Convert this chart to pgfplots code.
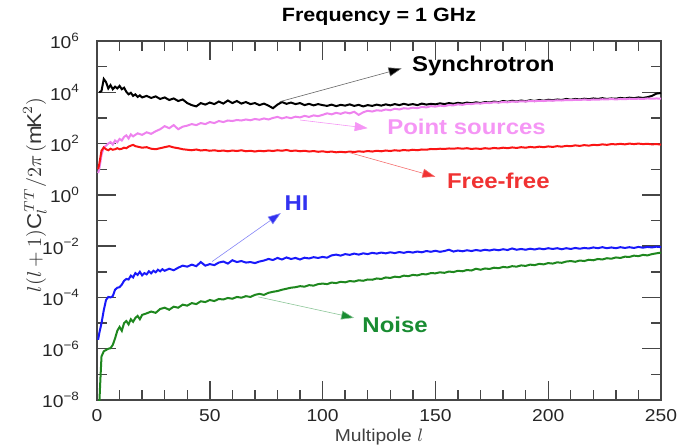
\documentclass[border=0pt]{standalone}
\usepackage{pgfplots}
\pgfplotsset{compat=1.18}
\usepackage{pgfplotstable}
\usepackage{fontspec}
\setmainfont{Liberation Sans}[FakeStretch=1.12]
\usetikzlibrary{arrows.meta}

\definecolor{cSyn}{RGB}{0,0,0}
\definecolor{cPS}{RGB}{238,130,238}
\definecolor{cPSlab}{RGB}{245,150,245}
\definecolor{cFF}{RGB}{250,20,20}
\definecolor{cFFlab}{RGB}{240,50,50}
\definecolor{cHI}{RGB}{25,25,250}
\definecolor{cHIlab}{RGB}{50,50,240}
\definecolor{cN}{RGB}{30,135,30}
\definecolor{cNlab}{RGB}{25,140,50}
\definecolor{cAx}{RGB}{70,70,70}

% values: l  and log10 of l(l+1)C_l/2pi
\pgfplotstableread{
l v
1 4.00
2 4.05
3 4.52
4 4.40
5 4.15
6 4.28
7 4.12
8 4.22
9 4.15
10 4.25
11 4.12
12 4.18
13 4.02
14 3.92
15 3.98
16 3.86
17 3.92
18 3.82
19 3.88
20 3.80
22 3.86
24 3.78
26 3.84
28 3.74
30 3.80
32 3.70
34 3.76
36 3.66
38 3.72
40 3.58
42 3.50
44 3.45
46 3.58
48 3.52
50 3.60
52 3.54
54 3.64
56 3.56
58 3.68
60 3.58
62 3.66
64 3.56
66 3.62
68 3.54
70 3.58
72 3.50
74 3.56
76 3.48
78 3.38
80 3.52
82 3.62
84 3.55
86 3.60
88 3.54
90 3.58
92 3.50
94 3.55
96 3.49
98 3.54
100 3.50
102 3.47
104 3.52
106 3.46
108 3.51
110 3.48
112 3.53
114 3.47
116 3.51
118 3.45
120 3.50
122 3.47
124 3.52
126 3.48
128 3.53
130 3.49
132 3.54
134 3.50
136 3.55
138 3.51
140 3.54
142 3.50
144 3.56
146 3.52
148 3.55
150 3.53
152 3.57
154 3.54
156 3.58
158 3.55
160 3.59
162 3.56
164 3.60
166 3.57
168 3.61
170 3.58
172 3.62
174 3.60
176 3.64
178 3.61
180 3.66
182 3.63
184 3.67
186 3.64
188 3.68
190 3.65
192 3.69
194 3.66
196 3.70
198 3.67
200 3.71
202 3.69
204 3.72
206 3.70
208 3.74
210 3.71
212 3.74
214 3.72
216 3.75
218 3.73
220 3.76
222 3.74
224 3.77
226 3.74
228 3.76
230 3.75
232 3.78
234 3.76
236 3.79
238 3.77
240 3.80
242 3.78
244 3.81
246 3.86
248 3.95
250 3.97
}\synch

\pgfplotstableread{
l v
0.5 0.85
1 1.00
2 1.55
3 1.85
4 1.92
5 2.00
6 2.06
7 1.96
8 2.12
9 2.05
10 2.18
11 2.12
12 2.26
13 2.32
14 2.20
15 2.36
16 2.28
18 2.40
20 2.34
22 2.44
24 2.38
26 2.48
28 2.56
30 2.68
32 2.60
34 2.72
36 2.56
38 2.66
40 2.70
42 2.76
44 2.72
46 2.80
48 2.76
50 2.84
52 2.80
54 2.88
56 2.84
58 2.90
60 2.88
62 2.92
64 2.90
66 2.94
68 2.91
70 2.96
72 2.93
74 2.98
76 2.94
78 3.00
80 3.04
82 2.98
84 3.03
86 2.99
88 3.05
90 3.02
92 3.08
94 3.04
96 3.10
98 3.07
100 3.12
102 3.18
104 3.14
106 3.20
108 3.16
110 3.22
112 3.18
114 3.24
116 3.12
118 3.22
120 3.28
122 3.25
124 3.30
126 3.28
128 3.33
130 3.30
132 3.36
134 3.33
136 3.38
138 3.36
140 3.40
142 3.38
144 3.43
146 3.41
148 3.46
150 3.44
152 3.48
154 3.46
156 3.50
158 3.49
160 3.53
162 3.51
164 3.55
166 3.54
168 3.57
170 3.56
172 3.59
174 3.58
176 3.61
178 3.60
180 3.62
182 3.61
184 3.64
186 3.63
188 3.65
190 3.64
192 3.66
194 3.65
196 3.67
198 3.66
200 3.68
202 3.67
204 3.69
206 3.68
208 3.70
210 3.69
212 3.71
214 3.70
216 3.72
218 3.70
220 3.72
222 3.71
224 3.73
226 3.72
228 3.74
230 3.72
232 3.74
234 3.73
236 3.75
238 3.74
240 3.75
242 3.74
244 3.76
246 3.75
248 3.76
250 3.75
}\psrc

\pgfplotstableread{
l v
0.5 1.00
1 1.20
2 1.72
3 1.85
4 1.78
5 1.74
6 1.80
7 1.76
8 1.78
9 1.82
10 1.78
11 1.80
12 1.84
13 1.82
14 1.88
15 1.92
16 1.95
17 1.90
18 1.88
20 1.84
22 1.86
24 1.80
26 1.78
28 1.82
30 1.86
32 1.90
34 1.85
36 1.82
38 1.78
40 1.76
42 1.74
44 1.77
46 1.73
48 1.75
50 1.72
52 1.74
54 1.71
56 1.73
58 1.70
60 1.73
62 1.71
64 1.74
66 1.70
68 1.72
70 1.69
72 1.72
74 1.70
76 1.73
78 1.71
80 1.74
82 1.72
84 1.75
86 1.71
88 1.73
90 1.70
92 1.72
94 1.69
96 1.71
98 1.68
100 1.70
102 1.67
104 1.69
106 1.66
108 1.68
110 1.66
112 1.69
114 1.67
116 1.70
118 1.68
120 1.71
122 1.69
124 1.72
126 1.70
128 1.73
130 1.71
132 1.74
134 1.72
136 1.75
138 1.73
140 1.76
142 1.74
144 1.77
146 1.76
148 1.79
150 1.78
152 1.80
154 1.79
156 1.81
158 1.80
160 1.82
162 1.80
164 1.82
166 1.79
168 1.81
170 1.79
172 1.82
174 1.80
176 1.83
178 1.81
180 1.84
182 1.82
184 1.85
186 1.83
188 1.86
190 1.84
192 1.87
194 1.85
196 1.88
198 1.86
200 1.89
202 1.87
204 1.90
206 1.88
208 1.91
210 1.90
212 1.93
214 1.91
216 1.94
218 1.92
220 1.95
222 1.94
224 1.97
226 1.95
228 1.98
230 1.97
232 1.99
234 1.97
236 2.00
238 1.98
240 2.00
242 1.98
244 1.99
246 1.97
248 1.98
250 1.96
}\freefree

\pgfplotstableread{
l v
0.5 -5.65
1 -5.40
2 -5.00
3 -4.50
4 -4.10
5 -3.98
6 -4.00
7 -3.95
8 -3.70
9 -3.62
10 -3.60
11 -3.50
12 -3.35
13 -3.28
14 -3.30
15 -3.15
16 -3.22
17 -3.05
18 -3.12
19 -3.00
20 -3.14
21 -3.05
22 -3.10
23 -2.98
24 -3.06
25 -2.96
26 -3.02
27 -2.92
28 -2.98
29 -2.90
30 -2.96
32 -2.88
34 -2.94
36 -2.84
38 -2.76
40 -2.80
42 -2.72
44 -2.78
46 -2.62
48 -2.76
50 -2.70
52 -2.74
54 -2.64
56 -2.60
58 -2.68
60 -2.55
62 -2.62
64 -2.58
66 -2.64
68 -2.62
70 -2.66
72 -2.60
74 -2.56
76 -2.50
78 -2.54
80 -2.46
82 -2.52
84 -2.44
86 -2.50
88 -2.46
90 -2.52
92 -2.45
94 -2.48
96 -2.43
98 -2.46
100 -2.42
102 -2.45
104 -2.36
106 -2.33
108 -2.37
110 -2.31
112 -2.34
114 -2.29
116 -2.33
118 -2.28
120 -2.31
122 -2.26
124 -2.29
126 -2.25
128 -2.28
130 -2.24
132 -2.27
134 -2.23
136 -2.26
138 -2.22
140 -2.25
142 -2.21
144 -2.24
146 -2.19
148 -2.22
150 -2.18
152 -2.22
154 -2.19
156 -2.14
158 -2.21
160 -2.17
162 -2.20
164 -2.16
166 -2.19
168 -2.15
170 -2.18
172 -2.14
174 -2.17
176 -2.13
178 -2.16
180 -2.12
182 -2.15
184 -2.09
186 -2.14
188 -2.11
190 -2.14
192 -2.10
194 -2.13
196 -2.09
198 -2.12
200 -2.08
202 -2.11
204 -2.08
206 -2.12
208 -2.08
210 -2.11
212 -2.07
214 -2.10
216 -2.07
218 -2.09
220 -2.05
222 -2.08
224 -2.04
226 -2.08
228 -2.05
230 -2.08
232 -2.04
234 -2.07
236 -2.04
238 -2.07
240 -2.03
242 -2.06
244 -2.03
246 -2.05
248 -2.02
250 -2.04
}\hi

\pgfplotstableread{
l v
1 -8.20
1.5 -7.20
2 -6.30
3 -6.10
4 -6.05
5 -6.00
6 -5.98
7 -5.85
8 -5.60
9 -5.30
10 -5.15
11 -5.30
12 -5.00
13 -4.92
14 -5.05
15 -4.85
16 -4.95
17 -4.80
18 -4.72
19 -4.85
20 -4.68
22 -4.62
24 -4.55
26 -4.60
28 -4.45
30 -4.40
32 -4.48
34 -4.36
36 -4.40
38 -4.28
40 -4.32
42 -4.22
44 -4.26
46 -4.15
48 -4.18
50 -4.10
52 -4.14
54 -4.06
56 -4.08
58 -4.02
60 -4.05
62 -3.98
64 -4.01
66 -3.95
68 -3.98
70 -3.90
72 -3.86
74 -3.90
76 -3.82
78 -3.78
80 -3.75
82 -3.70
84 -3.66
86 -3.62
88 -3.60
90 -3.56
92 -3.58
94 -3.52
96 -3.54
98 -3.48
100 -3.46
102 -3.48
104 -3.42
106 -3.44
108 -3.39
110 -3.41
112 -3.36
114 -3.38
116 -3.33
118 -3.35
120 -3.30
122 -3.31
124 -3.26
126 -3.28
128 -3.22
130 -3.24
132 -3.19
134 -3.21
136 -3.15
138 -3.17
140 -3.12
142 -3.14
144 -3.09
146 -3.10
148 -3.05
150 -3.06
152 -3.02
154 -3.04
156 -2.99
158 -3.01
160 -2.96
162 -2.98
164 -2.93
166 -2.95
168 -2.88
170 -2.92
172 -2.87
174 -2.89
176 -2.84
178 -2.86
180 -2.81
182 -2.83
184 -2.78
186 -2.80
188 -2.75
190 -2.77
192 -2.72
194 -2.74
196 -2.69
198 -2.71
200 -2.66
202 -2.68
204 -2.63
206 -2.65
208 -2.60
210 -2.58
212 -2.61
214 -2.56
216 -2.58
218 -2.53
220 -2.55
222 -2.50
224 -2.52
226 -2.47
228 -2.49
230 -2.44
232 -2.46
234 -2.41
236 -2.42
238 -2.37
240 -2.39
242 -2.34
244 -2.36
246 -2.31
248 -2.28
250 -2.25
}\noise

\begin{document}
\begin{tikzpicture}
\useasboundingbox (-48.5pt,-23.5pt) rectangle (290.5pt,200pt);
\begin{axis}[
  at={(0,0)}, anchor=south west,
  scale only axis, width=282pt, height=179.5pt,
  xmin=0, xmax=250,
  ymode=log, log basis y=10,
  ymin=1e-8, ymax=1e6,
  xtick={0,50,100,150,200,250},
  xticklabels={0,50,100,150,200,250},
  minor xtick={10,20,30,40,60,70,80,90,110,120,130,140,160,170,180,190,210,220,230,240},
  ytick={1e-8,1e-6,1e-4,1e-2,1,1e2,1e4,1e6},
  yticklabels={10\textsuperscript{−8},10\textsuperscript{−6},10\textsuperscript{−4},10\textsuperscript{−2},10\textsuperscript{0},10\textsuperscript{2},10\textsuperscript{4},10\textsuperscript{6}},
  minor ytick={1e-7,1e-5,1e-3,1e-1,1e1,1e3,1e5},
  tick align=inside,
  major tick length=9.5pt,
  minor tick length=5pt,
  axis line style={cAx, line width=0.7pt},
  every tick/.style={cAx, line width=0.7pt},
  tick label style={font=\fontsize{8.6}{10}\selectfont, text=black!85},
  yticklabel style={xshift=-5pt},
  xticklabel style={yshift=-1pt},
  every axis title shift=0pt,
  title={\fontsize{9.6}{11}\selectfont\bfseries Frequency = 1 GHz},
  title style={at={(axis description cs:0.5,1.067)}, anchor=center, inner sep=0pt, yshift=0pt},
  xlabel={\fontsize{8.6}{10}\selectfont Multipole $l$},
  xlabel style={at={(axis description cs:0.5,-0.103)}, anchor=center, inner sep=0pt, text=black!75},
  ylabel={\fontsize{10}{12}\selectfont $l(l+1)\mathrm{C}_l^{\,TT}/2\pi\,(\mathrm{mK}^2)$},
  ylabel style={at={(axis description cs:-0.11,0.571)}, anchor=center, inner sep=0pt, text=black!80},
  clip=true,
]
\addplot[cSyn, line width=1pt] table[x=l, y expr={10^(\thisrow{v})}] {\synch};
\addplot[cPS, line width=1pt] table[x=l, y expr={10^(\thisrow{v})}] {\psrc};
\addplot[cFF, line width=1pt] table[x=l, y expr={10^(\thisrow{v})}] {\freefree};
\addplot[cHI, line width=1pt] table[x=l, y expr={10^(\thisrow{v})}] {\hi};
\addplot[cN, line width=1pt] table[x=l, y expr={10^(\thisrow{v})}] {\noise};

\draw[black!60, line width=0.3pt, -{Triangle[length=6.5pt,width=4.5pt,fill=black]}] (axis cs:81,4.3e3) -- (axis cs:135,8.5e4);
\node[anchor=west, inner sep=0pt, font=\fontsize{10.7}{12}\selectfont\bfseries] at (axis cs:139.5,1.05e5) {Synchrotron};

\draw[cPSlab, line width=0.3pt, -{Triangle[length=6.5pt,width=4.5pt,fill=cPSlab]}] (axis cs:90,830) -- (axis cs:120,400);
\node[anchor=west, inner sep=0pt, text=cPSlab, font=\fontsize{10.7}{12}\selectfont\bfseries] at (axis cs:128.5,447) {Point sources};

\draw[cFFlab!70, line width=0.3pt, -{Triangle[length=6.5pt,width=4.5pt,fill=cFFlab]}] (axis cs:111,46.8) -- (axis cs:150,5.1);
\node[anchor=west, inner sep=0pt, text=cFFlab, font=\fontsize{10.7}{12}\selectfont\bfseries] at (axis cs:155,3.5) {Free-free};

\draw[cHIlab!60, line width=0.3pt, -{Triangle[length=6.5pt,width=4.5pt,fill=cHIlab]}] (axis cs:51,2.5e-3) -- (axis cs:81.5,0.195);
\node[anchor=west, inner sep=0pt, text=cHIlab, font=\fontsize{10.7}{12}\selectfont\bfseries] at (axis cs:83,0.48) {HI};

\draw[cNlab!50, line width=0.3pt, -{Triangle[length=6.5pt,width=4.5pt,fill=cNlab]}] (axis cs:71.5,1.05e-4) -- (axis cs:114,1.6e-5);
\node[anchor=west, inner sep=0pt, text=cNlab, font=\fontsize{10.7}{12}\selectfont\bfseries] at (axis cs:117.5,8.3e-6) {Noise};
\end{axis}
\end{tikzpicture}
\end{document}
